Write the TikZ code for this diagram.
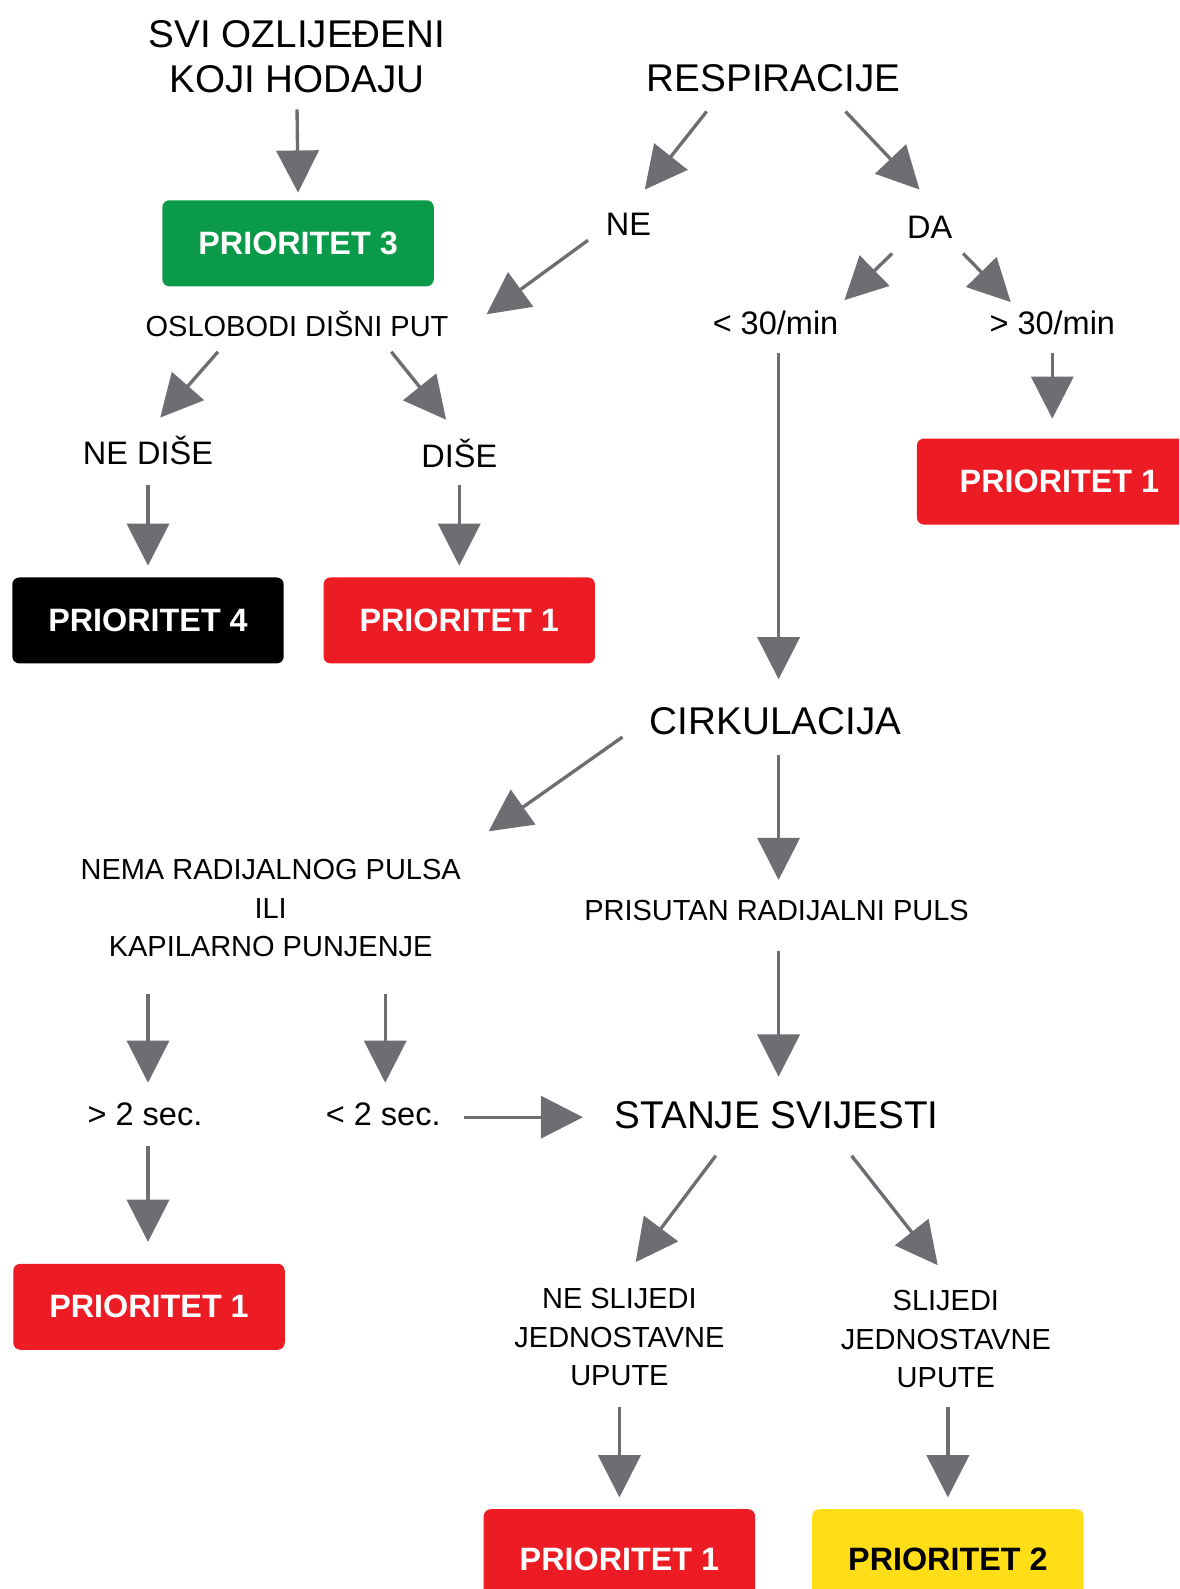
\documentclass[tikz,border=0pt]{standalone}
\usepackage{fontspec}
\setmainfont{Liberation Sans}
\usetikzlibrary{arrows.meta}

\definecolor{arrgray}{HTML}{6D6E71}
\definecolor{prred}{HTML}{ED1C24}
\definecolor{prgreen}{HTML}{0A9A4A}
\definecolor{pryellow}{HTML}{FFDE17}

\tikzset{
  title/.style={font=\fontsize{22}{26}\selectfont, align=center, inner sep=0pt},
  lbl/.style={font=\fontsize{18.5}{22}\selectfont, inner sep=0pt},
  small/.style={font=\fontsize{16.5}{22}\selectfont, align=center, inner sep=0pt},
  prbox/.style={rounded corners=4pt, minimum width=5.43cm, minimum height=1.72cm,
    font=\fontsize{18.4}{22}\selectfont\bfseries, text=white, inner sep=0pt},
  arr/.style={draw=arrgray, line width=1.9pt, -{Triangle[width=24pt,length=24pt]}}
}

\begin{document}
\begin{tikzpicture}[x=0.02028cm, y=-0.02028cm]
  \useasboundingbox (0,0) rectangle (1163,1567.4);
  \clip (0,0) rectangle (1163,1567.4);

  \node[title] (walk)   at (293,  56) {SVI OZLIJEĐENI\\KOJI HODAJU};
  \node[prbox, fill=prgreen] (p3) at (294, 240) {PRIORITET 3};
  \node[small] (dp)     at (293, 320) {OSLOBODI DIŠNI PUT};
  \node[title] (resp)   at (763,  77) {RESPIRACIJE};
  \node[lbl]   (ne)     at (620, 221) {NE};
  \node[lbl]   (da)     at (917, 224) {DA};
  \node[lbl]   (lt30)   at (765, 318) {< 30/min};
  \node[lbl]   (gt30)   at (1038, 318) {> 30/min};
  \node[prbox, fill=prred, minimum width=5.7cm] (p1a) at (1045, 475) {PRIORITET 1};
  \node[lbl]   (nd)     at (146, 444) {NE DIŠE};
  \node[lbl]   (d)      at (453, 447) {DIŠE};
  \node[prbox, fill=black] (p4) at (146, 612) {PRIORITET 4};
  \node[prbox, fill=prred] (p1b) at (453, 612) {PRIORITET 1};
  \node[title] (circ)   at (765, 711) {CIRKULACIJA};
  \node[small] (nema)   at (267, 896) {NEMA RADIJALNOG PULSA\\ILI\\KAPILARNO PUNJENJE};
  \node[small] (pris)   at (766, 898) {PRISUTAN RADIJALNI PULS};
  \node[lbl]   (gt2)    at (143, 1099) {> 2 sec.};
  \node[lbl]   (lt2)    at (378, 1099) {< 2 sec.};
  \node[title] (stanje) at (766, 1100) {STANJE SVIJESTI};
  \node[prbox, fill=prred] (p1c) at (147, 1289) {PRIORITET 1};
  \node[small] (nsl)    at (611, 1319) {NE SLIJEDI\\JEDNOSTAVNE\\UPUTE};
  \node[small] (sl)     at (933, 1321) {SLIJEDI\\JEDNOSTAVNE\\UPUTE};
  \node[prbox, fill=prred, minimum height=2cm] (p1d) at (611, 1538) {PRIORITET 1};
  \node[prbox, fill=pryellow, text=black, minimum height=2cm] (p2) at (935, 1538) {PRIORITET 2};

  \draw[arr] ([shift={(0,52)}]walk.center)    -- ([shift={(0,-50)}]p3.center);
  \draw[arr] ([shift={(-66,33)}]resp.center)  -- ([shift={(16,-34)}]ne.center);
  \draw[arr] ([shift={(71,33)}]resp.center)   -- ([shift={(-10,-37)}]da.center);
  \draw[arr] ([shift={(-40,16)}]ne.center)    -- ([shift={(187,-10)}]dp.center);
  \draw[arr] ([shift={(-37,26)}]da.center)    -- ([shift={(68,-22)}]lt30.center);
  \draw[arr] ([shift={(33,26)}]da.center)     -- ([shift={(-41,-20)}]gt30.center);
  \draw[arr] ([shift={(0,30)}]gt30.center)    -- ([shift={(-7,-62)}]p1a.center);
  \draw[arr] ([shift={(3,30)}]lt30.center)    -- ([shift={(3,-41)}]circ.center);
  \draw[arr] ([shift={(-78,27)}]dp.center)    -- ([shift={(12,-32)}]nd.center);
  \draw[arr] ([shift={(93,27)}]dp.center)     -- ([shift={(-13,-33)}]d.center);
  \draw[arr] ([shift={(0,34)}]nd.center)      -- ([shift={(0,-54)}]p4.center);
  \draw[arr] ([shift={(0,31)}]d.center)       -- ([shift={(0,-54)}]p1b.center);
  \draw[arr] ([shift={(-151,16)}]circ.center) -- ([shift={(215,-76)}]nema.center);
  \draw[arr] ([shift={(3,34)}]circ.center)    -- ([shift={(2,-30)}]pris.center);
  \draw[arr] ([shift={(-121,84)}]nema.center) -- ([shift={(3,-31)}]gt2.center);
  \draw[arr] ([shift={(113,84)}]nema.center)  -- ([shift={(2,-31)}]lt2.center);
  \draw[arr] ([shift={(2,40)}]pris.center)    -- ([shift={(2,-38)}]stanje.center);
  \draw[arr] ([shift={(80,3)}]lt2.center)     -- ([shift={(-191,2)}]stanje.center);
  \draw[arr] ([shift={(3,31)}]gt2.center)     -- ([shift={(-1,-64)}]p1c.center);
  \draw[arr] ([shift={(-60,40)}]stanje.center) -- ([shift={(16,-74)}]nsl.center);
  \draw[arr] ([shift={(74,40)}]stanje.center) -- ([shift={(-8,-73)}]sl.center);
  \draw[arr] ([shift={(0,69)}]nsl.center)     -- ([shift={(0,-61)}]p1d.center);
  \draw[arr] ([shift={(2,67)}]sl.center)      -- ([shift={(0,-61)}]p2.center);
\end{tikzpicture}
\end{document}
